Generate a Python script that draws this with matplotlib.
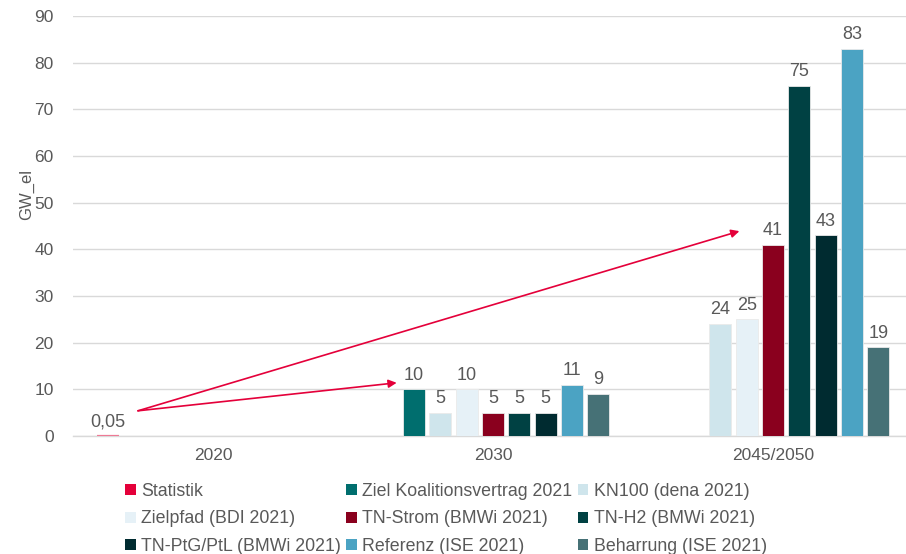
"""Installierte Elektrolyseleistung nach Szenarien, gruppiertes Balkendiagramm"""
import numpy as np
import matplotlib
matplotlib.use("Agg")
import matplotlib.pyplot as plt
from matplotlib.patches import Patch

plt.rcParams['font.family'] = ['Liberation Sans', 'DejaVu Sans']

YEARS = ["2020", "2030", "2045/2050"]
SERIES = ["Statistik", "Ziel Koalitionsvertrag 2021", "KN100 (dena 2021)",
          "Zielpfad (BDI 2021)", "TN-Strom (BMWi 2021)", "TN-H2 (BMWi 2021)",
          "TN-PtG/PtL (BMWi 2021)", "Referenz (ISE 2021)", "Beharrung (ISE 2021)"]
COLORS = ["#E4003A", "#006E6E", "#CFE5EC", "#E6F1F7", "#8A001E",
          "#004143", "#002B30", "#4BA3C3", "#467176"]
nan = np.nan
VALUES = [
    [0.05, nan, nan],   # Statistik
    [nan, 10, nan],     # Ziel Koalitionsvertrag
    [nan, 5, 24],       # KN100
    [nan, 10, 25],      # Zielpfad
    [nan, 5, 41],       # TN-Strom
    [nan, 5, 75],       # TN-H2
    [nan, 5, 43],       # TN-PtG/PtL
    [nan, 11, 83],      # Referenz
    [nan, 9, 19],       # Beharrung
]
LABELS = [
    ["0,05", "", ""],
    ["", "10", ""],
    ["", "5", "24"],
    ["", "10", "25"],
    ["", "5", "41"],
    ["", "5", "75"],
    ["", "5", "43"],
    ["", "11", "83"],
    ["", "9", "19"],
]
# arrows: start point and two targets, data coords
ARROW_START = (-0.268, 5.4)
ARROW_ENDS = [(0.656, 11.4), (1.88, 43.9)]

GREY = "#595959"
LINE = "#D9D9D9"

fig = plt.figure(figsize=(9.06, 5.54), dpi=100)
ax = fig.add_axes([73 / 906, 118 / 554, 840 / 906, 420 / 554])

slot = 0.094
width = 0.0785
x = np.arange(len(YEARS))
for i, (name, vals, labs) in enumerate(zip(SERIES, VALUES, LABELS)):
    pos = x + (i - 4) * slot
    edge = "#EE7A95" if i == 0 else "#EAEAEA"
    bars = ax.bar(pos, vals, width, color=COLORS[i], edgecolor=edge,
                  linewidth=1.6 if i == 0 else 0.6, zorder=3)
    for rect, lab, v in zip(bars, labs, vals):
        if lab:
            ax.text(rect.get_x() + rect.get_width() / 2, v + 1.2, lab,
                    ha="center", va="bottom", fontsize=13, color=GREY)

for end in ARROW_ENDS:
    ax.annotate("", xy=end, xytext=ARROW_START,
                arrowprops=dict(arrowstyle="-|>", color="#E4003A", lw=1.2,
                                mutation_scale=12, shrinkA=0, shrinkB=0),
                zorder=4)

ax.set_xlim(-0.5, 2.5)
ax.set_ylim(0, 90)
ax.set_yticks(range(0, 91, 10))
ax.set_xticks(x)
ax.set_xticklabels(YEARS)
ax.tick_params(axis="both", length=0, labelsize=12.5, colors=GREY)
ax.tick_params(axis="x", pad=9)
ax.tick_params(axis="y", pad=14)
ax.grid(axis="y", color=LINE, lw=1, zorder=0)
for s in ["top", "right", "left"]:
    ax.spines[s].set_visible(False)
ax.spines["bottom"].set_color(LINE)
ax.spines["bottom"].set_linewidth(1)
ax.set_ylabel("GW_el", fontsize=12, color=GREY)
ax.yaxis.set_label_coords(-0.046, 0.575)

# legend is filled row by row in the reference
order = [0, 3, 6, 1, 4, 7, 2, 5, 8]
handles = [Patch(facecolor=COLORS[k], edgecolor="none") for k in order]
names = [SERIES[k] for k in order]
fig.legend(handles, names, ncol=3, loc="upper left",
           bbox_to_anchor=(118 / 906, 1 - 476 / 554), frameon=False,
           fontsize=12.8, labelcolor=GREY, handlelength=0.6, handleheight=0.6,
           handletextpad=0.3, columnspacing=0.3, labelspacing=0.58,
           borderaxespad=0)

fig.savefig("out.png", dpi=100)
